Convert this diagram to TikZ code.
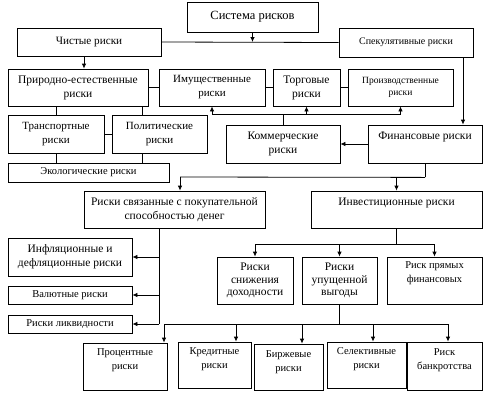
\documentclass[tikz,border=0pt]{standalone}
\usepackage{fontspec}
\setmainfont{Liberation Serif}
\usetikzlibrary{arrows.meta,calc}
\tikzset{
  box/.style={draw,line width=0.8pt,inner sep=0pt,align=center,font=\fontsize{11.5}{14}\selectfont},
  txt/.style={inner sep=0pt,align=center,font=\fontsize{11.5}{14}\selectfont},
  fa/.style={font=\fontsize{10.5}{14}\selectfont},
  fb/.style={font=\fontsize{10}{12}\selectfont},
  fc/.style={font=\fontsize{9.5}{11.5}\selectfont},
  fd/.style={font=\fontsize{11.5}{12.5}\selectfont},
  ln/.style={line width=0.8pt},
  arr/.style={line width=0.8pt,-{Latex[length=5pt,width=4.5pt]}}
}
\newcommand\bx[7][]{%
  \pgfmathsetmacro\bw{#5-#3}\pgfmathsetmacro\bh{#6-#4}%
  \node[box,#1,minimum width=\bw pt,minimum height=\bh pt] (#2) at ({(#3+#5)/2},{(#4+#6)/2}) {#7};}
\newcommand\bxt[8][]{%
  \pgfmathsetmacro\bw{#5-#3}\pgfmathsetmacro\bh{#6-#4}%
  \node[box,minimum width=\bw pt,minimum height=\bh pt] (#2) at ({(#3+#5)/2},{(#4+#6)/2}) {};
  \node[txt,#1] (#2t) at ([yshift=#7pt]#2.center) {#8};}
\begin{document}
\begin{tikzpicture}[x=1pt,y=-1pt]
\useasboundingbox (0,0) rectangle (498,400);
\bx[font=\fontsize{12.5}{14}\selectfont]{sys}{187}{2}{318}{32}{Система рисков}
\bx[font=\fontsize{11.2}{14}\selectfont]{chist}{17}{28}{161}{56}{Чистые риски}
\bx[fb]{spek}{339}{28}{473}{57}{Спекулятивные риски}
\bx{prir}{8}{69}{148}{106}{Природно-естественные\\риски}
\bx[font=\fontsize{11}{14}\selectfont]{imu}{159}{69}{265}{106}{Имущественные\\риски}
\bx{torg}{273}{69}{340}{106}{Торговые\\риски}
\bx[fc]{proizv}{348}{69}{453}{106}{Производственные\\риски}
\bx[font=\fontsize{11}{14}\selectfont]{trans}{8}{115}{104}{153}{Транспортные\\риски}
\bx[font=\fontsize{11}{14}\selectfont]{polit}{112}{115}{207}{153}{Политические\\риски}
\bx[fa]{eco}{8}{163}{169}{182}{Экологические риски}
\bx{komm}{226}{125}{340}{163}{Коммерческие\\риски}
\bxt{fin}{368}{125}{482}{163}{7}{Финансовые риски}
\bx{svyaz}{84}{191}{265}{228}{Риски связанные с покупательной\\способностью денег}
\bxt{inv}{311}{191}{482}{228}{6.5}{Инвестиционные риски}
\bx{infl}{8}{238}{132}{276}{Инфляционные и\\дефляционные риски}
\bx[fa]{val}{8}{286}{132}{304}{Валютные риски}
\bx[fa]{likv}{8}{315}{132}{333}{Риски ликвидности}
\bx[fd]{snizh}{217}{257}{293}{304}{Риски\\снижения\\доходности}
\bx[fd]{upu}{302}{257}{377}{304}{Риски\\упущенной\\выгоды}
\bxt[fa]{pryam}{387}{257}{482}{304}{7}{Риск прямых\\финансовых}
\bxt[fa]{proc}{83}{343}{167}{390}{6}{Процентные\\риски}
\bxt[fa]{kred}{178}{342}{251}{388}{6}{Кредитные\\риски}
\bxt[fa]{birzh}{254}{344}{323}{390}{5}{Биржевые\\риски}
\bxt[fa]{sel}{327}{342}{406}{388}{6}{Селективные\\риски}
\bxt[fa]{bank}{407}{342}{482}{390}{6}{Риск\\банкротства}
% top
\draw[ln] (chist.east) -- (spek.west);
\draw[arr] (sys.south) -- (sys.south |- chist.east);
\draw[arr] ([xshift=-5pt]chist.south) -- ([xshift=-5pt]chist.south |- prir.north);
\draw[ln] (prir.east) -- (imu.west) (imu.east) -- (torg.west) (torg.east) -- (proizv.west);
\draw[arr] ([xshift=57pt]spek.south) -- ([xshift=57pt]spek.south |- fin.north);
% commercial branch
\draw[ln] (komm.north) -- ++(0,-10) coordinate (kb);
\draw[ln] (kb -| imu.south) -- (kb -| proizv.south);
\draw[arr] (kb -| imu.south) -- (imu.south);
\draw[arr] (kb -| torg.south) -- (torg.south);
\draw[arr] (kb -| proizv.south) -- (proizv.south);
% natural
\draw[ln] (trans.north) -- (trans.north |- prir.south);
\draw[ln] ([xshift=-6pt]prir.south east) -- ([xshift=-6pt]prir.south east |- polit.north);
\draw[ln] (trans.east) -- (polit.west);
\draw[ln] (trans.south) -- (trans.south |- eco.north);
\draw[ln] ([xshift=-6pt]prir.south east |- polit.south) -- ([xshift=-6pt]prir.south east |- eco.north);
% financial
\draw[arr] (fin.west) -- (komm.east);
\draw[ln] (fin.south) -- ++(0,14) coordinate (fb);
\coordinate (fl) at (180,177);
\draw[ln] (fb) -- (fl);
\draw[arr] (fl) -- (fl |- svyaz.north);
\draw[arr] (fb -| inv.south) -- (inv.north);
% investment
\draw[ln] (inv.south) -- ++(0,16) coordinate (ib);
\draw[ln] (ib -| snizh.north) -- (ib -| pryam.north);
\draw[arr] (ib -| snizh.north) -- (snizh.north);
\draw[arr] (ib -| upu.north) -- (upu.north);
\draw[arr] (ib -| pryam.north) -- (pryam.north);
% purchasing power
\coordinate (sv) at (159,228);
\draw[ln] (sv) -- (sv |- likv.east);
\draw[arr] (sv |- infl.east) -- (infl.east);
\draw[arr] (sv |- val.east) -- (val.east);
\draw[arr] (sv |- likv.east) -- (likv.east);
% lost profit
\draw[ln] (upu.south) -- ++(0,20) coordinate (ub);
\coordinate (a1) at (164,324);
\coordinate (a2) at (236,324);
\coordinate (a3) at (302,324);
\coordinate (a4) at (373,324);
\coordinate (a5) at (448,324);
\draw[ln] (a1) -- (a5);
\draw[arr] (a1) -- (a1 |- proc.north);
\draw[arr] (a2) -- (a2 |- kred.north);
\draw[arr] (a3) -- (a3 |- birzh.north);
\draw[arr] (a4) -- (a4 |- sel.north);
\draw[arr] (a5) -- (a5 |- bank.north);
\end{tikzpicture}
\end{document}
